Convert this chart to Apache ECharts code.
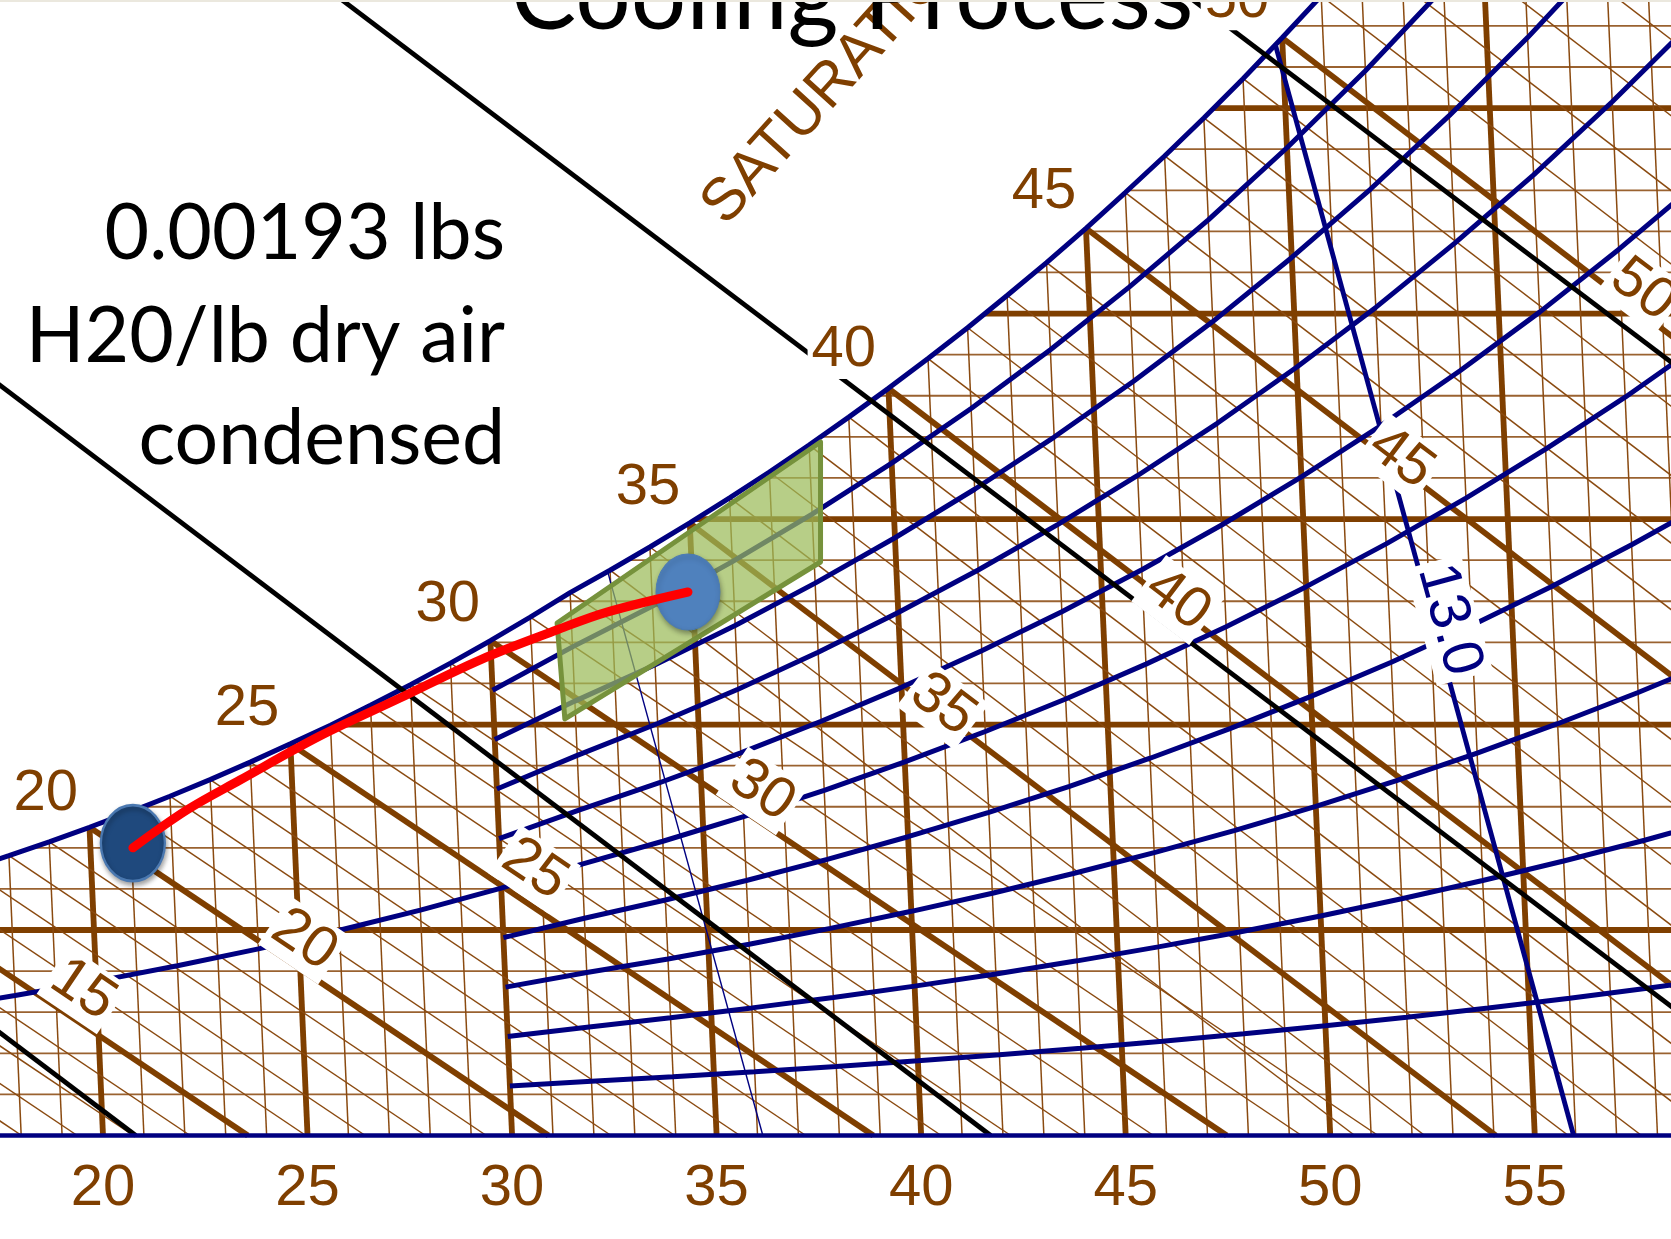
<!DOCTYPE html>
<html><head><meta charset="utf-8">
<script src="https://cdn.jsdelivr.net/npm/echarts@6/dist/echarts.min.js"></script>
<style>html,body{margin:0;padding:0;background:#fff}#c{width:1671px;height:1239px}</style>
</head><body><div id="c"></div><script>
// ---------- data ----------
// dry-bulb lines of this chart drift left as grains rise (deg F per grain)
const LEAN = 0.022;
const xTicks = [20, 25, 30, 35, 40, 45, 50, 55];
// saturation curve: dry bulb (F) -> humidity ratio (grains / lb dry air)
const satT = [8,9,10,11,12,13,14,15,16,17,18,19,20,21,22,23,24,25,26,27,28,29,30,31,32,33,34,35,36,37,38,39,40,41,42,43,44,45,46,47,48,49,50,51,52,53,54];
const satW = [8.30,8.74,9.19,9.66,10.15,10.66,11.20,11.76,12.35,12.97,13.62,14.29,15.00,15.74,16.51,17.32,18.17,19.06,19.97,20.94,21.94,22.99,24.08,25.23,26.42,27.51,28.64,29.81,31.03,32.29,33.60,34.96,36.36,37.81,39.31,40.88,42.48,44.15,45.89,47.67,49.52,51.43,53.42,55.46,57.58,59.78,62.04];
// dry-bulb grid lines
const dbTemps = [18,19,20,21,22,23,24,25,26,27,28,29,30,31,32,33,34,35,36,37,38,39,40,41,42,43,44,45,46,47,48,49,50,51,52,53,54,55,56,57,58,59];
// humidity-ratio grid lines (grains)
const grainLines = [2,4,6,8,10,12,14,16,18,20,22,24,26,28,30,32,34,36,38,40,42,44,46,48,50,52,54];
// wet-bulb lines: wet bulb temp and the dry bulb where each reaches 0 grains
const wbTemps = [11,12,13,14,15,16,17,18,19,20,21,22,23,24,25,26,27,28,29,30,31,32,33,34,35,36,37,38,39,40,41,42,43,44,45,46,47,48,49,50,51,52,53,54];
const wbEndT = [18.01,19.37,20.74,22.13,23.54,24.96,26.41,27.88,29.37,30.89,32.42,33.98,35.57,37.18,38.83,40.49,42.19,43.92,45.68,47.47,49.30,51.17,50.60,52.31,54.05,55.82,57.61,59.44,61.29,63.17,65.08,67.03,69.01,71.02,73.07,75.16,77.28,79.43,81.63,83.87,86.14,88.47,90.84,93.26];
// relative humidity curves (grains) at dry bulb rhT
const rhT = [30,32,34,36,38,40,42,44,46,48,50,52,54,56,58,60];
const rh10 = [2.41,2.64,2.86,3.10,3.36,3.64,3.93,4.25,4.59,4.95,5.34,5.76,6.20,6.68,7.19,7.73];
const rh20 = [4.82,5.28,5.73,6.21,6.72,7.27,7.86,8.50,9.18,9.90,10.68,11.52,12.41,13.36,14.37,15.46];
const rh30 = [7.22,7.93,8.59,9.31,10.08,10.91,11.79,12.75,13.77,14.85,16.02,17.27,18.61,20.04,21.56,23.18];
const rh40 = [9.63,10.57,11.46,12.41,13.44,14.54,15.73,16.99,18.36,19.81,21.37,23.03,24.82,26.72,28.75,30.91];
const rh60 = [14.45,15.85,17.18,18.62,20.16,21.81,23.59,25.49,27.53,29.71,32.05,34.55,37.23,40.07,43.12,46.37];
const rh70 = [16.86,18.50,20.05,21.72,23.52,25.45,27.52,29.74,32.12,34.66,37.39,40.30,43.43,46.75,50.31,54.09];
const rh80 = [19.27,21.14,22.91,24.82,26.88,29.09,31.45,33.99,36.71,39.61,42.73,46.06,49.63,53.43,57.49];
const rh90 = [21.67,23.78,25.77,27.93,30.24,32.72,35.38,38.24,41.30,44.56,48.07,51.82,55.84];
const rh50T = [16,18,20,22,24,26,28,30,32,34,36,38,40,42,44,46,48,50,52,54,56,58,60];
const rh50 = [6.18,6.81,7.50,8.26,9.08,9.99,10.97,12.04,13.21,14.32,15.52,16.80,18.18,19.66,21.24,22.94,24.76,26.71,28.79,31.02,33.40,35.93,38.64];
// enthalpy lines (chart x at 0 grains and at 60 grains)
const enthX0 = [20.8, 41.7, 62.5, 83.3];
const enthX60 = [-19.0, 1.9, 22.7, 43.5];
// specific volume lines (12.5, 13.0 ft3/lb): bottom x, top point
const volX0 = [36.13, 55.95];
const volTopX = [32.34, 48.67];
const volTopW = [27.42, 53.0];
const volWidth = [1.4, 4.8];
// labels on the saturation curve
const satLabTxt = ['20','25','30','35','40','45','50'];
const satLabX = [18.60, 23.52, 28.43, 33.32, 38.11, 43.00, 47.72];
const satLabW = [16.62, 20.76, 25.81, 31.49, 38.23, 45.91, 55.20];
// wet-bulb labels
const wbLabTxt = ['15','20','25','30','35','40','45','50'];
const wbLabX = [19.51, 24.92, 30.55, 36.11, 40.53, 46.27, 51.73, 57.64];
const wbLabW = [7.08, 9.50, 12.95, 16.77, 20.95, 26.06, 32.97, 41.14];
const wbLabRot = [-34, -34, -34, -34, -37, -37, -37, -37];
const volLabTxt = ['13.0']; const volLabX = [52.90]; const volLabW = [25.09];
// comfort zone (green) polygon
const zoneX = [37.54, 37.54, 31.29, 31.10];
const zoneW = [33.75, 27.91, 20.27, 24.94];
// cooling process path
const procX = [20.73, 22.05, 23.35, 25.30, 27.26, 29.21, 31.09, 32.32, 34.30];
const procW = [14.00, 15.84, 17.30, 19.44, 21.29, 23.14, 24.60, 25.47, 26.45];
const ptX = [20.73, 34.30];
const ptW = [14.23, 26.45];

// ---------- build ----------
const BROWN = '#7f3f00', THIN = '#8a4a10', NAVY = '#000080';
const sk = (t, w) => [t - LEAN * w, w];
const series = [];
function seg(data, color, width, z) {
  series.push({type: 'line', data, symbol: 'none', silent: true, z, clip: true,
    lineStyle: {color, width, cap: 'butt', opacity: 1}});
}
grainLines.forEach(g => {
  const thick = g % 10 === 0;
  seg([[10, g], [70, g]], thick ? BROWN : '#9a6230', thick ? 5.8 : 1.8, 1);
});
dbTemps.forEach(t => {
  const thick = t % 5 === 0;
  seg([[t, 0], sk(t, 60)], thick ? BROWN : THIN, thick ? 5.8 : 1.5, 1);
});
wbTemps.forEach((t, i) => {
  const ws = satW[satT.indexOf(t)];
  const thick = t % 5 === 0;
  seg([sk(t, ws), [wbEndT[i], 0]], thick ? BROWN : THIN, thick ? 5.8 : 1.5, 1);
});
[rh10, rh20, rh30, rh40, rh60, rh70, rh80, rh90].forEach(arr => {
  seg(arr.map((w, i) => sk(rhT[i], w)), NAVY, 5, 2);
});
seg(rh50.map((w, i) => sk(rh50T[i], w)), NAVY, 5, 2);
volX0.forEach((x, i) => seg([[x, 0], [volTopX[i], volTopW[i]]], NAVY, volWidth[i], 2));
series.push({type: 'line', data: satT.map((t, i) => sk(t, satW[i])), symbol: 'none', silent: true, z: 3, clip: true,
  lineStyle: {color: NAVY, width: 5}, areaStyle: {color: '#ffffff', opacity: 1, origin: 'end'}});
enthX0.forEach((x, i) => seg([[x, 0], [enthX60[i], 60]], '#000000', 4.8, 4));
function labels(txt, xs, ws, rot, color, z) {
  series.push({type: 'scatter', z, silent: true, clip: false, symbolSize: 1,
    itemStyle: {color: 'rgba(0,0,0,0)', opacity: 1},
    data: txt.map((s, i) => ({value: [xs[i], ws[i]], label: {formatter: s, rotate: rot ? rot[i] : 0}})),
    label: {show: true, position: 'inside', color, opacity: 1, fontSize: 58, fontFamily: 'Liberation Sans',
      backgroundColor: '#ffffff', padding: [0, 4]}});
}
labels(satLabTxt, satLabX, satLabW, null, BROWN, 5);
labels(wbLabTxt, wbLabX, wbLabW, wbLabRot, BROWN, 5);
labels(volLabTxt, volLabX, volLabW, [-74.6], NAVY, 5);
series.push({type: 'custom', z: 6, silent: true, data: [[zoneX[0], zoneW[0]]],
  renderItem: (p, api) => ({type: 'polygon',
    shape: {points: zoneX.map((x, i) => api.coord([x, zoneW[i]]))},
    style: {fill: 'rgba(155,187,89,0.72)', stroke: '#76923c', lineWidth: 5, lineJoin: 'round'}})});
series.push({type: 'scatter', z: 7, silent: true, symbol: 'circle', symbolSize: [64, 76],
  data: [
    {value: [ptX[0], ptW[0]], itemStyle: {color: '#1f497d', borderColor: '#4a78b0', borderWidth: 2.5, opacity: 1}},
    {value: [ptX[1], ptW[1]], itemStyle: {color: '#4f81bd', borderColor: '#4a7ab4', borderWidth: 1, opacity: 1}}],
  itemStyle: {opacity: 1, shadowBlur: 5, shadowColor: 'rgba(0,0,0,0.35)', shadowOffsetX: 1, shadowOffsetY: 3}});
series.push({type: 'line', z: 8, silent: true, symbol: 'none', smooth: 0.35,
  data: procX.map((x, i) => [x, procW[i]]), lineStyle: {color: '#ff0000', width: 9, cap: 'round'}});

const chart = echarts.init(document.getElementById('c'), null, {renderer: 'canvas'});
chart.setOption({
  animation: false,
  backgroundColor: '#ffffff',
  grid: {left: 0, right: 0, top: 0, bottom: 103.5, containLabel: false, outerBoundsMode: 'none'},
  xAxis: {type: 'value', min: 17.482, max: 58.33, z: 10,
    axisLine: {show: true, onZero: false, lineStyle: {color: NAVY, width: 4.5}},
    axisTick: {show: false}, splitLine: {show: false},
    axisLabel: {customValues: xTicks, margin: 24, color: BROWN, fontSize: 58, fontFamily: 'Liberation Sans'}},
  yAxis: {type: 'value', min: 0, max: 55.26, show: false, splitLine: {show: false}},
  series,
  graphic: [
    {type: 'text', z: 100, x: 840, y: 76, rotation: 47.8 * Math.PI / 180,
      style: {text: 'SATURATION', fill: BROWN, fontSize: 60, fontFamily: 'Liberation Sans', align: 'center', verticalAlign: 'middle'}},
    {type: 'text', z: 101, x: 852, y: -3,
      style: {text: 'Cooling Process', fill: '#000', fontSize: 98, fontFamily: 'Lato', align: 'center', verticalAlign: 'middle'}},
    {type: 'text', z: 101, x: 505, y: 234,
      style: {text: '0.00193 lbs', fill: '#000', fontSize: 77, fontFamily: 'Lato', align: 'right', verticalAlign: 'middle'}},
    {type: 'text', z: 101, x: 505, y: 337,
      style: {text: 'H20/lb dry air', fill: '#000', fontSize: 77, fontFamily: 'Lato', align: 'right', verticalAlign: 'middle'}},
    {type: 'text', z: 101, x: 505, y: 439,
      style: {text: 'condensed', fill: '#000', fontSize: 77, fontFamily: 'Lato', align: 'right', verticalAlign: 'middle'}},
    {type: 'rect', z: 120, shape: {x: 0, y: 0, width: 1671, height: 2}, style: {fill: '#ebe8de'}}
  ]
});
</script></body></html>
